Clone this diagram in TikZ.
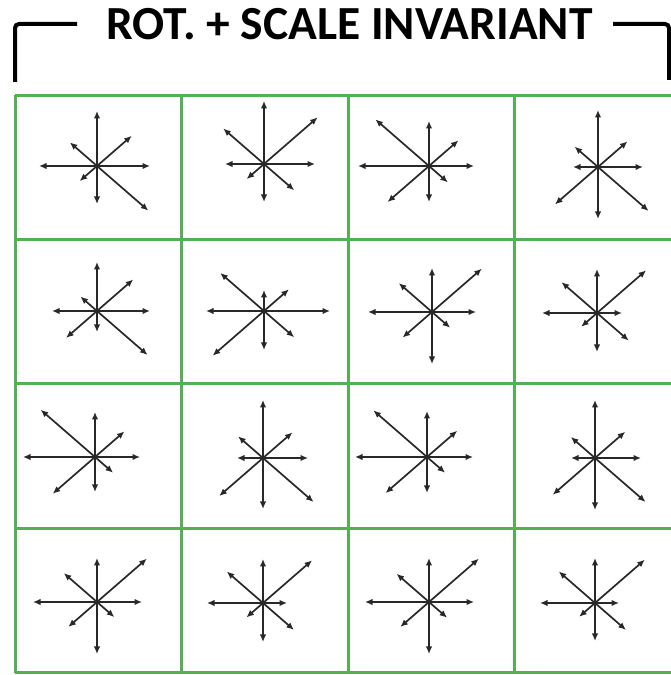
\documentclass[tikz,border=0pt]{standalone}
\usepackage{fontspec}
\setmainfont{Carlito}
\usetikzlibrary{arrows.meta}
\definecolor{gridgreen}{RGB}{84,176,84}
\definecolor{raygray}{RGB}{40,40,40}

\begin{document}
\begin{tikzpicture}[x=1pt,y=1pt,
    cell/.style={draw=gridgreen,line width=3pt},
    ray/.style={-{Latex[length=7.5pt,width=6.5pt]},draw=raygray,line width=1.7pt},
    bracket/.style={draw=black,line width=4pt,rounded corners=4pt},
    title/.style={font=\bfseries\fontsize{47.5}{50}\selectfont,inner sep=0pt,anchor=base west}]
  \useasboundingbox (0,0) rectangle (671,675);
  % title and bracket
  \node[title] (head) at (106,635) {ROT. + SCALE INVARIANT};
  \draw[bracket] (15,593) |- (77,651);
  \draw[bracket] (613,651) -| (669,595);
  % green grid
  \begin{scope}
    \clip (0,0) rectangle (671,675);
    \draw[cell,shift={(15,2)}] (0,0) grid[xstep=166.5,ystep=144.5] (666,578);
  \end{scope}
  % one keypoint per cell: centre, then E NE N NW W SW S SE
  \foreach \cx/\cy/\e/\ne/\n/\nw/\w/\sw/\s/\se in {
      97/509/53/46/55/36/58/23/38/68, 264/511/51/71/63/54/39/23/38/40,
      429/509/45/39/45/71/71/55/36/25, 598/508/45/39/57/31/25/57/52/67,
      97/364/53/48/49/22/45/41/21/67, 264/364/66/33/21/58/58/68/39/40,
      432/363/44/66/44/44/64/39/52/24, 597/362/25/65/44/47/55/21/39/42,
      95/218/45/39/45/72/72/56/35/24, 263/217/45/39/58/33/26/58/51/67,
      427/218/46/40/46/71/72/55/36/24, 595/217/46/40/58/32/24/56/52/67,
      97/73/45/66/44/44/64/38/52/23, 263/72/24/65/44/48/56/22/39/41,
      429/73/45/66/44/43/64/38/52/24, 595/72/24/66/45/48/55/21/38/41} {
    \coordinate (kp) at (\cx,\cy);
    \foreach \ang/\len in {0/\e,41/\ne,90/\n,139/\nw,180/\w,221/\sw,270/\s,319/\se}
      \draw[ray] (kp) -- ++(\ang:\len);
    \fill[raygray] (kp) circle (2.2);
  }
\end{tikzpicture}
\end{document}
